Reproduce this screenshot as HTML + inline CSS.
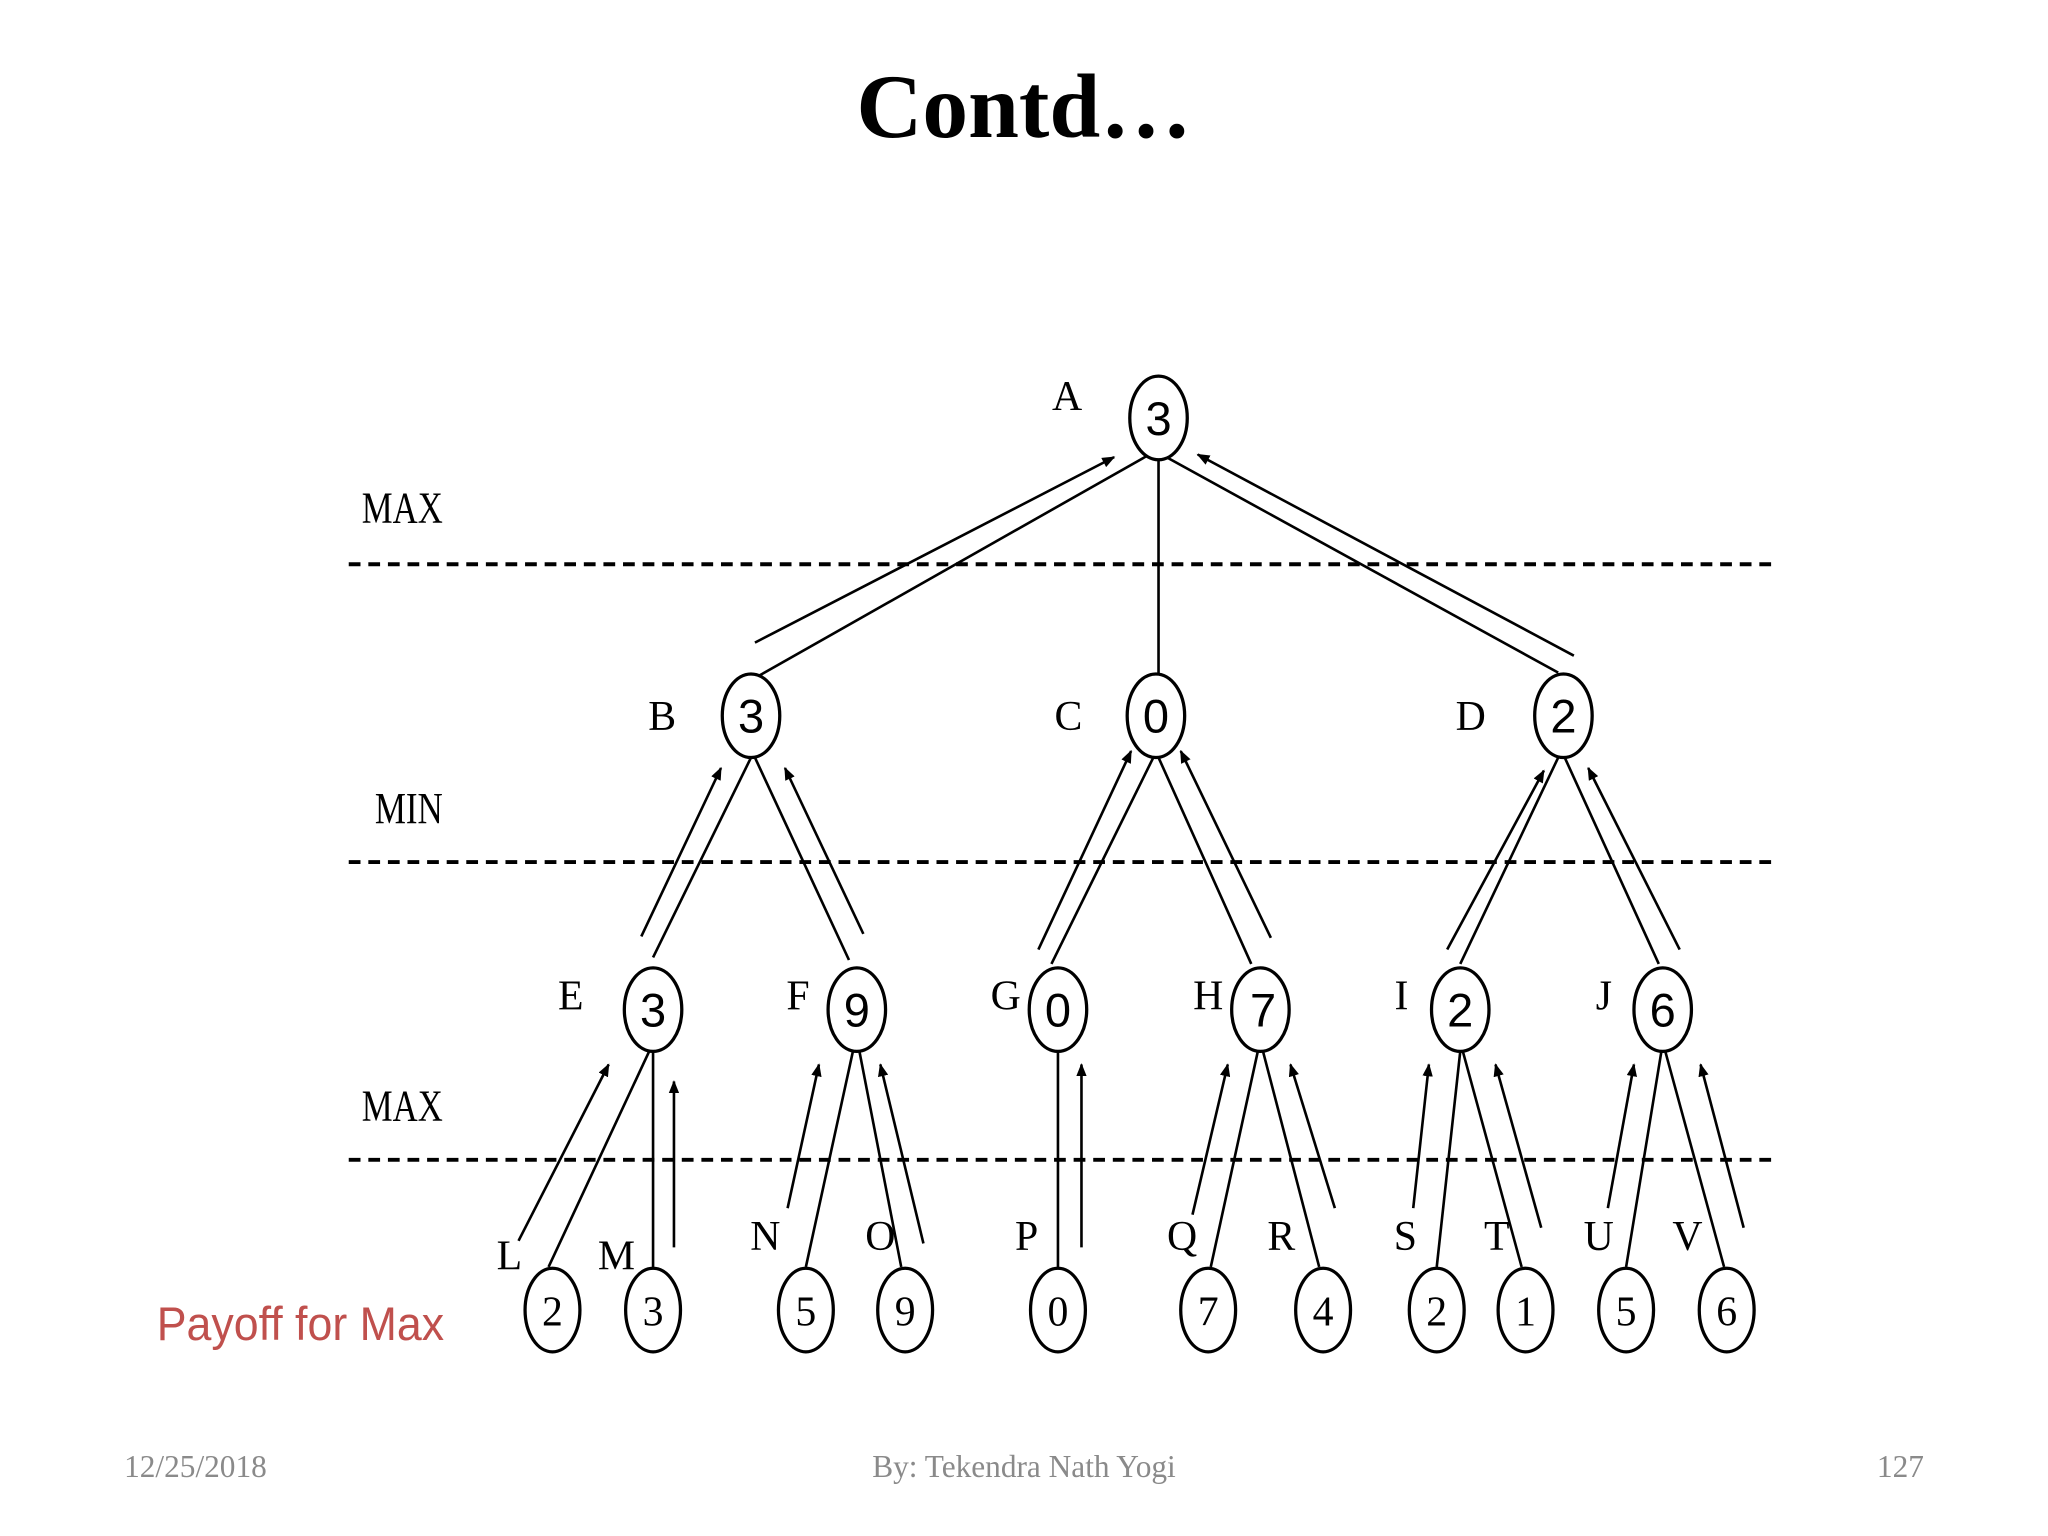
<!DOCTYPE html>
<html><head><meta charset="utf-8"><style>
html,body{margin:0;padding:0;background:#fff;}
svg{display:block}
</style></head><body>
<svg width="2048" height="1536" viewBox="0 0 1568 1176" xmlns="http://www.w3.org/2000/svg">
<defs><marker id="ah" markerWidth="10" markerHeight="8" refX="9" refY="4" orient="auto" markerUnits="userSpaceOnUse"><path d="M0,0 L10,4 L0,8 z" fill="#000"/></marker></defs>
<rect width="1568" height="1176" fill="#fff"/>
<text x="784" y="105" text-anchor="middle" font-family="Liberation Serif, serif" font-weight="bold" font-size="70">Contd…</text>
<g stroke="#000" stroke-width="3" stroke-dasharray="9,6">
<line x1="267" y1="432" x2="1360" y2="432"/>
<line x1="267" y1="660" x2="1360" y2="660"/>
<line x1="267" y1="888" x2="1360" y2="888"/>
</g>
<g font-family="Liberation Serif, serif" font-size="34" fill="#000">
<text x="277" y="400" textLength="62" lengthAdjust="spacingAndGlyphs">MAX</text>
<text x="287" y="630" textLength="52" lengthAdjust="spacingAndGlyphs">MIN</text>
<text x="277" y="858" textLength="62" lengthAdjust="spacingAndGlyphs">MAX</text>
</g>
<g stroke="#000" stroke-width="2" fill="none">
<line x1="880" y1="348" x2="580" y2="518"/>
<line x1="887" y1="352" x2="887" y2="516"/>
<line x1="893" y1="350" x2="1193" y2="515"/>
<line x1="575" y1="580" x2="500" y2="733"/>
<line x1="578" y1="580" x2="650" y2="735"/>
<line x1="883" y1="580" x2="805" y2="738"/>
<line x1="887" y1="580" x2="958" y2="738"/>
<line x1="1193" y1="580" x2="1118" y2="738"/>
<line x1="1198" y1="580" x2="1270" y2="738"/>
<line x1="497" y1="805" x2="420" y2="970"/>
<line x1="500" y1="805" x2="500" y2="970"/>
<line x1="653" y1="805" x2="617" y2="970"/>
<line x1="658" y1="805" x2="690" y2="970"/>
<line x1="810" y1="805" x2="810" y2="970"/>
<line x1="963" y1="805" x2="927" y2="970"/>
<line x1="967" y1="805" x2="1010" y2="970"/>
<line x1="1118" y1="805" x2="1100" y2="970"/>
<line x1="1120" y1="805" x2="1165" y2="970"/>
<line x1="1272" y1="805" x2="1245" y2="970"/>
<line x1="1275" y1="805" x2="1320" y2="970"/>
</g>
<g stroke="#000" stroke-width="2" fill="none" marker-end="url(#ah)">
<line x1="578" y1="492" x2="853" y2="350"/>
<line x1="1205" y1="502" x2="917" y2="348"/>
<line x1="491" y1="717" x2="552" y2="588"/>
<line x1="661" y1="715" x2="601" y2="588"/>
<line x1="795" y1="727" x2="866" y2="575"/>
<line x1="973" y1="718" x2="904" y2="575"/>
<line x1="1108" y1="727" x2="1182" y2="590"/>
<line x1="1286" y1="727" x2="1216" y2="588"/>
<line x1="397" y1="950" x2="466" y2="815"/>
<line x1="516" y1="955" x2="516" y2="828"/>
<line x1="603" y1="925" x2="627" y2="815"/>
<line x1="707" y1="952" x2="674" y2="815"/>
<line x1="828" y1="955" x2="828" y2="815"/>
<line x1="913" y1="930" x2="940" y2="815"/>
<line x1="1022" y1="925" x2="988" y2="815"/>
<line x1="1082" y1="925" x2="1094" y2="815"/>
<line x1="1180" y1="940" x2="1145" y2="815"/>
<line x1="1231" y1="925" x2="1251" y2="815"/>
<line x1="1335" y1="940" x2="1302" y2="815"/>
</g>
<g stroke="#000" stroke-width="2.5" fill="#fff">
<ellipse cx="887" cy="320" rx="22" ry="32"/>
<ellipse cx="575" cy="548" rx="22" ry="32"/>
<ellipse cx="885" cy="548" rx="22" ry="32"/>
<ellipse cx="1197" cy="548" rx="22" ry="32"/>
<ellipse cx="500" cy="773" rx="22" ry="32"/>
<ellipse cx="656" cy="773" rx="22" ry="32"/>
<ellipse cx="810" cy="773" rx="22" ry="32"/>
<ellipse cx="965" cy="773" rx="22" ry="32"/>
<ellipse cx="1118" cy="773" rx="22" ry="32"/>
<ellipse cx="1273" cy="773" rx="22" ry="32"/>
<ellipse cx="423" cy="1003" rx="21" ry="32"/>
<ellipse cx="500" cy="1003" rx="21" ry="32"/>
<ellipse cx="617" cy="1003" rx="21" ry="32"/>
<ellipse cx="693" cy="1003" rx="21" ry="32"/>
<ellipse cx="810" cy="1003" rx="21" ry="32"/>
<ellipse cx="925" cy="1003" rx="21" ry="32"/>
<ellipse cx="1013" cy="1003" rx="21" ry="32"/>
<ellipse cx="1100" cy="1003" rx="21" ry="32"/>
<ellipse cx="1168" cy="1003" rx="21" ry="32"/>
<ellipse cx="1245" cy="1003" rx="21" ry="32"/>
<ellipse cx="1322" cy="1003" rx="21" ry="32"/>
</g>
<g font-family="Liberation Sans, sans-serif" font-size="36" text-anchor="middle" fill="#000">
<text x="887" y="333">3</text>
<text x="575" y="561">3</text>
<text x="885" y="561">0</text>
<text x="1197" y="561">2</text>
<text x="500" y="786">3</text>
<text x="656" y="786">9</text>
<text x="810" y="786">0</text>
<text x="967" y="786">7</text>
<text x="1118" y="786">2</text>
<text x="1273" y="786">6</text>
</g>
<g font-family="Liberation Serif, serif" font-size="32" text-anchor="middle" fill="#000">
<text x="423" y="1015">2</text>
<text x="500" y="1015">3</text>
<text x="617" y="1015">5</text>
<text x="693" y="1015">9</text>
<text x="810" y="1015">0</text>
<text x="925" y="1015">7</text>
<text x="1013" y="1015">4</text>
<text x="1100" y="1015">2</text>
<text x="1168" y="1015">1</text>
<text x="1245" y="1015">5</text>
<text x="1322" y="1015">6</text>
</g>
<g font-family="Liberation Serif, serif" font-size="32" text-anchor="middle" fill="#000">
<text x="817" y="314">A</text>
<text x="507" y="559">B</text>
<text x="818" y="559">C</text>
<text x="1126" y="559">D</text>
<text x="437" y="773">E</text>
<text x="611" y="773">F</text>
<text x="770" y="773">G</text>
<text x="925" y="773">H</text>
<text x="1073" y="773">I</text>
<text x="1228" y="773">J</text>
<text x="390" y="972">L</text>
<text x="472" y="972">M</text>
<text x="586" y="957">N</text>
<text x="674" y="957">O</text>
<text x="786" y="957">P</text>
<text x="905" y="957">Q</text>
<text x="981" y="957">R</text>
<text x="1076" y="957">S</text>
<text x="1146" y="957">T</text>
<text x="1224" y="957">U</text>
<text x="1292" y="957">V</text>
</g>
<text x="120" y="1026" font-family="Liberation Sans, sans-serif" font-size="36" fill="#c0504d" textLength="220" lengthAdjust="spacingAndGlyphs">Payoff for Max</text>
<g font-family="Liberation Serif, serif" font-size="24" fill="#8a8a8a">
<text x="95" y="1131">12/25/2018</text>
<text x="784" y="1131" text-anchor="middle">By: Tekendra Nath Yogi</text>
<text x="1473" y="1131" text-anchor="end">127</text>
</g>
</svg>
</body></html>
